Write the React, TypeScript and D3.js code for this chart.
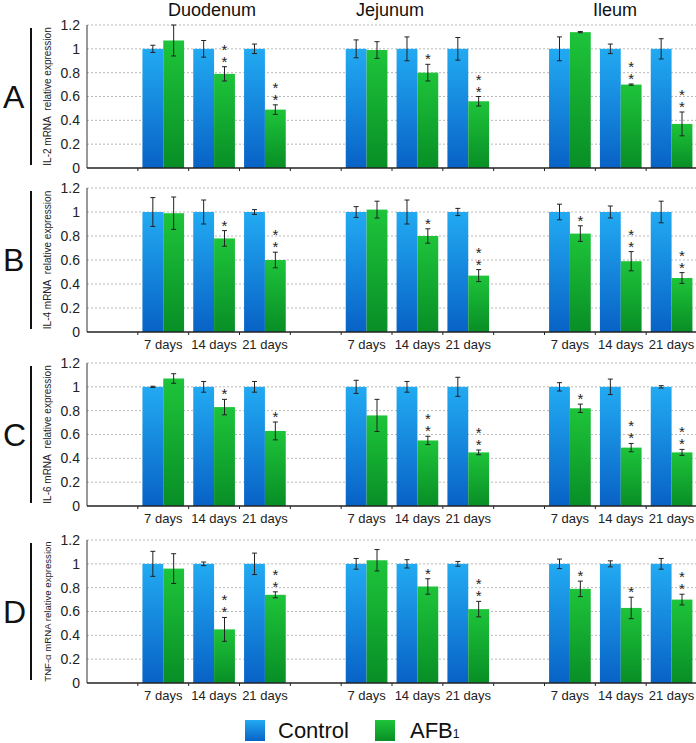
import React, { useEffect } from "react";
import * as d3 from "d3";

const regions = ["Duodenum", "Jejunum", "Ileum"];
const days = ["7 days", "14 days", "21 days"];
const yTicks = [0, 0.2, 0.4, 0.6, 0.8, 1, 1.2];

// control is normalised to 1 everywhere
const controlA = [1, 1, 1, 1, 1, 1, 1, 1, 1];
const controlErrA = [0.03, 0.07, 0.04, 0.075, 0.1, 0.095, 0.1, 0.04, 0.085];
const afbA = [1.07, 0.79, 0.49, 0.99, 0.8, 0.56, 1.14, 0.7, 0.37];
const afbErrA = [0.13, 0.06, 0.04, 0.07, 0.07, 0.04, 0.005, 0.005, 0.1];
const sigA = [0, 2, 2, 0, 1, 2, 0, 2, 2];

const controlB = [1, 1, 1, 1, 1, 1, 1, 1, 1];
const controlErrB = [0.12, 0.1, 0.02, 0.045, 0.1, 0.03, 0.065, 0.05, 0.09];
const afbB = [0.99, 0.78, 0.6, 1.02, 0.8, 0.47, 0.82, 0.59, 0.45];
const afbErrB = [0.135, 0.065, 0.065, 0.07, 0.06, 0.05, 0.065, 0.08, 0.045];
const sigB = [0, 1, 2, 0, 1, 2, 1, 2, 2];

const controlC = [1, 1, 1, 1, 1, 1, 1, 1, 1];
const controlErrC = [0.005, 0.045, 0.045, 0.055, 0.045, 0.08, 0.035, 0.065, 0.01];
const afbC = [1.07, 0.83, 0.63, 0.76, 0.55, 0.45, 0.82, 0.49, 0.45];
const afbErrC = [0.04, 0.065, 0.075, 0.135, 0.035, 0.02, 0.035, 0.035, 0.025];
const sigC = [0, 1, 1, 0, 2, 2, 1, 2, 2];

const controlD = [1, 1, 1, 1, 1, 1, 1, 1, 1];
const controlErrD = [0.105, 0.015, 0.09, 0.045, 0.035, 0.02, 0.04, 0.025, 0.045];
const afbD = [0.96, 0.45, 0.74, 1.03, 0.81, 0.62, 0.79, 0.63, 0.7];
const afbErrD = [0.125, 0.1, 0.025, 0.09, 0.065, 0.065, 0.065, 0.09, 0.045];
const sigD = [0, 2, 2, 0, 1, 2, 1, 1, 2];

const width = 696;
const height = 743;
const font = "'Liberation Sans', Arial, sans-serif";

const panels = [
  { letter: "A", title: "IL-2 mRNA\u00a0 relative expression", titleSize: 10, top: 25, bottom: 168, showDays: false,
    control: controlA, controlErr: controlErrA, afb: afbA, afbErr: afbErrA, sig: sigA },
  { letter: "B", title: "IL-4 mRNA\u00a0 relative expression", titleSize: 10, top: 188, bottom: 332, showDays: true,
    control: controlB, controlErr: controlErrB, afb: afbB, afbErr: afbErrB, sig: sigB },
  { letter: "C", title: "IL-6 mRNA\u00a0 relative expression", titleSize: 10, top: 363, bottom: 506, showDays: true,
    control: controlC, controlErr: controlErrC, afb: afbC, afbErr: afbErrC, sig: sigC },
  { letter: "D", title: "TNF-α mRNA relative expression", titleSize: 9.6, top: 540, bottom: 683, showDays: true,
    control: controlD, controlErr: controlErrD, afb: afbD, afbErr: afbErrD, sig: sigD },
];

const titleX = [212, 390, 615];

const x = d3
  .scaleBand<number>()
  .domain(d3.range(12))
  .range([87, 697])
  .paddingInner(0.18)
  .paddingOuter(0.09);
const step = x.step();
const sub = d3.scaleBand<string>().domain(["control", "afb"]).range([0, x.bandwidth()]);

// slot index for region g, day d (one empty slot before each region)
const slot = (i: number) => Math.floor(i / 3) * 4 + (i % 3) + 1;

const Panel = ({ p }: { p: (typeof panels)[number] }) => {
  const y = d3.scaleLinear().domain([0, 1.2]).range([p.bottom, p.top]);
  const mid = (p.top + p.bottom) / 2;
  const bw = sub.bandwidth();
  return (
    <g>
      <text x={3} y={mid + 11} fontSize={32} fontFamily={font} fill="#111">
        {p.letter}
      </text>
      <line x1={31} x2={31} y1={p.top + 3} y2={p.bottom - 3} stroke="#111" strokeWidth={2} />
      <text
        transform={`translate(51,${mid}) rotate(-90)`}
        textAnchor="middle"
        fontSize={p.titleSize}
        fontFamily={font}
        fill="#222"
      >
        {p.title}
      </text>
      {yTicks.map((t) => (
        <g key={t}>
          {t > 0 && (
            <line x1={87} x2={697} y1={y(t)} y2={y(t)} stroke="#b8b8b8" strokeWidth={1} strokeDasharray="2,2" />
          )}
          <text x={80} y={y(t)} dy="0.35em" textAnchor="end" fontSize={14} fontFamily={font} fill="#222">
            {String(t)}
          </text>
        </g>
      ))}
      {p.afb.map((v, i) => {
        const x0 = x(slot(i))!;
        const xc = x0 + sub("control")!;
        const xa = x0 + sub("afb")!;
        const errTop = y(v + p.afbErr[i]);
        const n = p.sig[i];
        return (
          <g key={i}>
            <rect x={xc} y={y(p.control[i])} width={bw} height={y(0) - y(p.control[i])} fill="url(#gBlue)" />
            <rect x={xa} y={y(v)} width={bw} height={y(0) - y(v)} fill="url(#gGreen)" />
            {[
              [xc + bw / 2, p.control[i], p.controlErr[i]],
              [xa + bw / 2, v, p.afbErr[i]],
            ].map(([cx, val, e], k) => (
              <g key={k} stroke="#222" strokeWidth={1}>
                <line x1={cx} x2={cx} y1={y(val + e)} y2={y(val - e)} />
                <line x1={cx - 2.5} x2={cx + 2.5} y1={y(val + e)} y2={y(val + e)} />
                <line x1={cx - 2.5} x2={cx + 2.5} y1={y(val - e)} y2={y(val - e)} />
              </g>
            ))}
            {n > 0 && (
              <text
                x={xa + bw / 2}
                y={errTop - 2}
                textAnchor="end"
                fontSize={15}
                fontFamily={font}
                fill="#222"
                letterSpacing={-5}
                style={{ writingMode: "vertical-rl", textOrientation: "upright" } as any}
              >
                {"*".repeat(n)}
              </text>
            )}
          </g>
        );
      })}
      <line x1={87} x2={87} y1={p.top} y2={p.bottom} stroke="#333" strokeWidth={1} />
      <line x1={87} x2={697} y1={p.bottom} y2={p.bottom} stroke="#222" strokeWidth={1.5} />
      {d3.range(1, 13).map((k) => (
        <line key={k} x1={87 + k * step} x2={87 + k * step} y1={p.bottom} y2={p.bottom + 3} stroke="#222" />
      ))}
      {p.showDays &&
        p.afb.map((_, i) => (
          <text
            key={i}
            x={x(slot(i))! + x.bandwidth() / 2}
            y={p.bottom + 17}
            textAnchor="middle"
            fontSize={13}
            fontFamily={font}
            fill="#222"
          >
            {days[i % 3]}
          </text>
        ))}
    </g>
  );
};

export default function App() {
  useEffect(() => {
    document.body.style.margin = "0";
  }, []);
  return (
    <svg width={width} height={height} style={{ display: "block", background: "#fff" }}>
      <defs>
        <linearGradient id="gBlue" x1="0" y1="0" x2="0" y2="1">
          <stop offset="0" stopColor="#22aaf2" />
          <stop offset="1" stopColor="#0862c6" />
        </linearGradient>
        <linearGradient id="gGreen" x1="0" y1="0" x2="0" y2="1">
          <stop offset="0" stopColor="#1ec43a" />
          <stop offset="1" stopColor="#088e26" />
        </linearGradient>
      </defs>
      {regions.map((r, i) => (
        <text key={r} x={titleX[i]} y={16} textAnchor="middle" fontSize={18} fontFamily={font} fill="#111">
          {r}
        </text>
      ))}
      {panels.map((p) => (
        <Panel key={p.letter} p={p} />
      ))}
      <g fontFamily={font} fill="#111">
        <rect x={245} y={720} width={20} height={21} fill="url(#gBlue)" />
        <text x={278} y={738} fontSize={22}>
          Control
        </text>
        <rect x={375} y={720} width={20} height={21} fill="url(#gGreen)" />
        <text x={410} y={738} fontSize={22}>
          AFB<tspan fontSize={12}>1</tspan>
        </text>
      </g>
    </svg>
  );
}
